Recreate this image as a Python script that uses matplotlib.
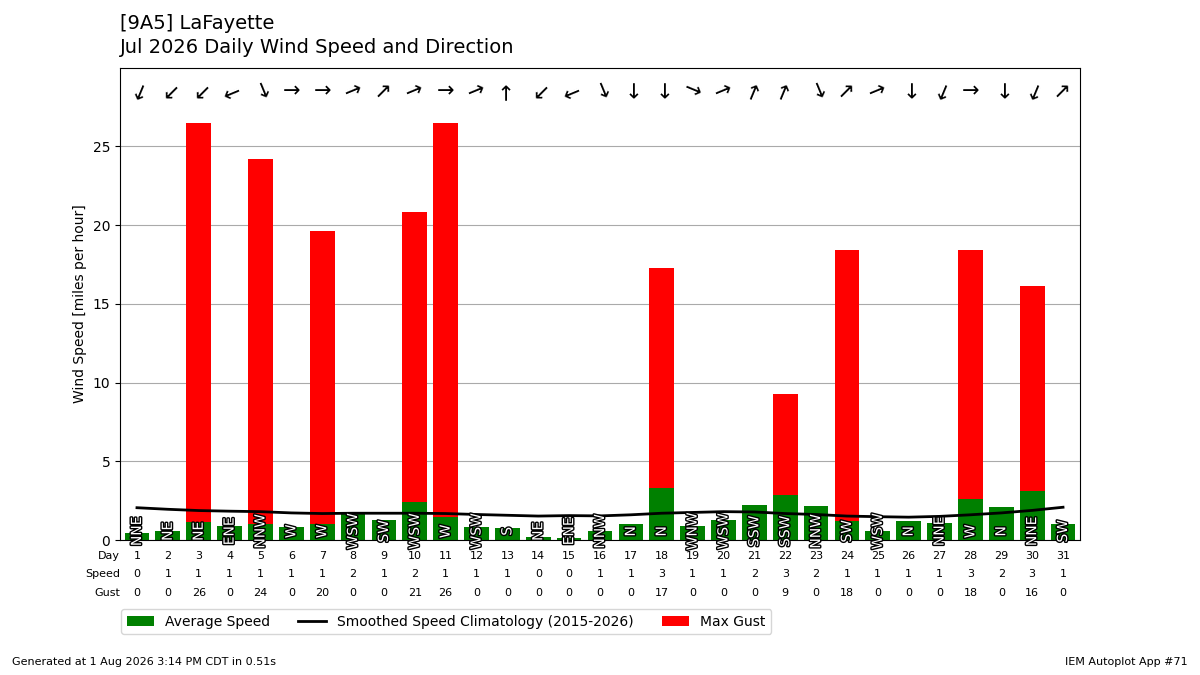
import matplotlib
matplotlib.use("Agg")
import matplotlib.pyplot as plt
import matplotlib.patheffects as PathEffects
import numpy as np

days = list(range(1, 32))
avg_speed = [0.46, 0.57, 1.16, 0.91, 1.03, 0.82, 1.03, 1.69, 1.27, 2.43, 1.48, 0.82, 0.78, 0.19, 0.13,
             0.57, 1.03, 3.33, 0.89, 1.27, 2.22, 2.85, 2.15, 1.2, 0.57, 1.2, 1.08, 2.6, 2.09, 3.1, 1.03]
max_gust = [0, 0, 26.5, 0, 24.2, 0, 19.6, 0, 0, 20.8, 26.5, 0, 0, 0, 0,
            0, 0, 17.3, 0, 0, 0, 9.25, 0, 18.4, 0, 0, 0, 18.4, 0, 16.1, 0]
speed_lbl = [0, 1, 1, 1, 1, 1, 1, 2, 1, 2, 1, 1, 1, 0, 0, 1, 1, 3, 1, 1, 2, 3, 2, 1, 1, 1, 1, 3, 2, 3, 1]
gust_lbl = [0, 0, 26, 0, 24, 0, 20, 0, 0, 21, 26, 0, 0, 0, 0, 0, 0, 17, 0, 0, 0, 9, 0, 18, 0, 0, 0, 18, 0, 16, 0]
direction = ["NNE", "NE", "NE", "ENE", "NNW", "W", "W", "WSW", "SW", "WSW", "W", "WSW", "S", "NE", "ENE",
             "NNW", "N", "N", "WNW", "WSW", "SSW", "SSW", "NNW", "SW", "WSW", "N", "NNE", "W", "N", "NNE", "SW"]
climo = [2.05, 1.95, 1.87, 1.83, 1.8, 1.72, 1.68, 1.7, 1.7, 1.7, 1.68, 1.62, 1.57, 1.52, 1.55,
         1.53, 1.6, 1.7, 1.75, 1.8, 1.78, 1.68, 1.62, 1.52, 1.48, 1.45, 1.5, 1.6, 1.72, 1.88, 2.08]

compass = ["N", "NNE", "NE", "ENE", "E", "ESE", "SE", "SSE", "S", "SSW", "SW", "WSW", "W", "WNW", "NW", "NNW"]

fig = plt.figure(figsize=(12, 6.75), dpi=100)
ax = fig.add_axes([0.1, 0.2, 0.8, 0.7])

ax.bar(days, max_gust, width=0.8, color="red", label="Max Gust")
ax.bar(days, avg_speed, width=0.8, color="green", label="Average Speed")
ax.plot(days, climo, color="k", lw=2, label="Smoothed Speed Climatology (2015-2026)", zorder=4)

for d, txt in zip(days, direction):
    t = ax.text(d, 0.55, txt, rotation=90, ha="center", va="center", color="white",
                fontsize=10, zorder=5)
    t.set_path_effects([PathEffects.withStroke(linewidth=2, foreground="k")])
    deg = compass.index(txt) * 22.5
    ang = 90 - (deg + 180)
    ax.text(d, 28.5, "\u2192", rotation=ang, rotation_mode="anchor", ha="center", va="center",
            fontsize=15, transform=ax.transData)

ax.set_xlim(0.45, 31.55)
ax.set_ylim(0, 30)
ax.set_xticks([])
ax.set_yticks([0, 5, 10, 15, 20, 25])
ax.yaxis.grid(True, color="#aaaaaa")
ax.set_axisbelow(True)
ax.set_ylabel("Wind Speed [miles per hour]")

trans = ax.get_xaxis_transform()
for row, (name, vals) in enumerate([("Day", days), ("Speed", speed_lbl), ("Gust", gust_lbl)]):
    y = -0.033 - row * 0.04
    ax.text(0.0, y, name, transform=ax.transAxes, ha="right", va="center", fontsize=8)
    for d, v in zip(days, vals):
        ax.text(d, y, str(v), transform=trans, ha="center", va="center", fontsize=8)

handles, labels = ax.get_legend_handles_labels()
order = [2, 0, 1]
fig.legend([handles[i] for i in order], [labels[i] for i in order], ncol=3,
           loc="center left", bbox_to_anchor=(0.095, 0.079))

fig.text(0.1, 0.965, "[9A5] LaFayette", fontsize=14, va="center")
fig.text(0.1, 0.929, "Jul 2026 Daily Wind Speed and Direction", fontsize=14, va="center")
fig.text(0.01, 0.015, "Generated at 1 Aug 2026 3:14 PM CDT in 0.51s", fontsize=8)
fig.text(0.99, 0.015, "IEM Autoplot App #71", fontsize=8, ha="right")

fig.savefig("out.png")
